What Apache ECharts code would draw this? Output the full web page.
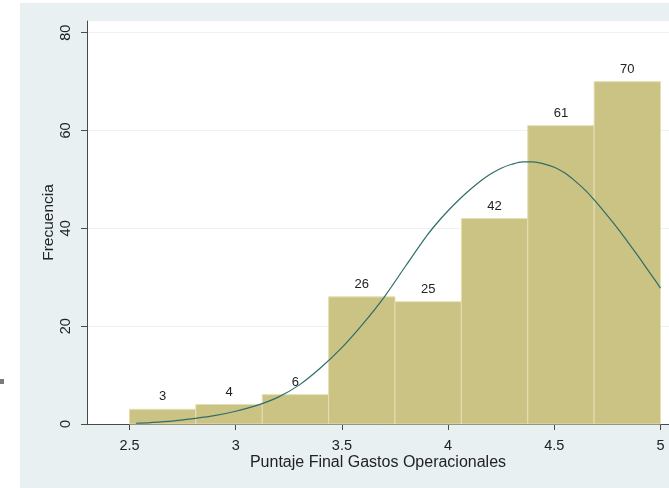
<!DOCTYPE html>
<html>
<head>
<meta charset="utf-8">
<script src="https://cdn.jsdelivr.net/npm/echarts@6/dist/echarts.min.js"></script>
<style>
html,body{margin:0;padding:0;background:#fff;width:669px;height:488px;overflow:hidden;position:relative;}
#frame{position:absolute;left:20px;top:3px;width:649px;height:485px;background:#e8f0f2;}
#chart{position:absolute;left:0;top:0;width:649px;height:485px;}
#dot{position:absolute;left:0;top:379px;width:4px;height:5px;background:#7a7a7a;}
</style>
</head>
<body>
<div id="dot"></div>
<div id="frame"><div id="chart"></div></div>
<script>
// Histogram bins (Puntaje Final Gastos Operacionales)
const binStarts = [2.5, 2.8125, 3.125, 3.4375, 3.75, 4.0625, 4.375, 4.6875];
const binEnds   = [2.8125, 3.125, 3.4375, 3.75, 4.0625, 4.375, 4.6875, 5.0];
const counts    = [3, 4, 6, 26, 25, 42, 61, 70];

// Overlaid density curve
const curveX = [2.53, 2.6, 2.7, 2.8, 2.9, 3.0, 3.1, 3.2, 3.3, 3.4, 3.5, 3.6, 3.7, 3.8, 3.9, 3.95, 4.0, 4.05, 4.1, 4.15, 4.2, 4.25, 4.3, 4.35, 4.4, 4.45, 4.5, 4.55, 4.6, 4.65, 4.7, 4.75, 4.8, 4.85, 4.9, 4.95, 5.0];
const curveY = [0.15, 0.3, 0.6, 1.1, 1.7, 2.6, 3.8, 5.5, 8.0, 11.5, 15.6, 20.5, 26.0, 32.3, 38.5, 41.2, 43.6, 45.8, 47.8, 49.6, 51.1, 52.3, 53.1, 53.6, 53.6, 53.2, 52.5, 51.3, 49.6, 47.6, 45.2, 42.6, 39.9, 37.0, 34.0, 30.9, 27.8];

// Axis ticks
const xTicks = [2.5, 3, 3.5, 4, 4.5, 5];
const yTicks = [0, 20, 40, 60, 80];

const histData = binStarts.map((s, i) => [s, binEnds[i], counts[i]]);
const curveData = curveX.map((x, i) => [x, curveY[i]]);

const FONT = "'Liberation Sans', Arial, sans-serif";
const TXT = '#222';

const chart = echarts.init(document.getElementById('chart'), null, {renderer: 'canvas'});
chart.setOption({
  backgroundColor: 'transparent',
  animation: false,
  grid: {left: 67, right: 0, top: 18, bottom: 64, show: true, backgroundColor: '#ffffff', borderWidth: 0},
  xAxis: {
    type: 'value', min: 2.3, max: 5.04,
    name: 'Puntaje Final Gastos Operacionales', nameLocation: 'middle', nameGap: 31, nameMoveOverlap: false,
    nameTextStyle: {fontFamily: FONT, fontSize: 16, color: TXT},
    axisLine: {show: true, lineStyle: {color: '#4a4a4a', width: 1}},
    axisTick: {show: true, length: 6, lineStyle: {color: '#4a4a4a'}, customValues: xTicks},
    axisLabel: {fontFamily: FONT, fontSize: 14.5, color: TXT, margin: 14, customValues: xTicks},
    splitLine: {show: false}
  },
  yAxis: {
    type: 'value', min: 0, max: 82.4, interval: 20,
    name: 'Frecuencia', nameLocation: 'middle', nameGap: 30, nameRotate: 90, nameMoveOverlap: false,
    nameTextStyle: {fontFamily: FONT, fontSize: 15.5, color: TXT},
    axisLine: {show: true, lineStyle: {color: '#4a4a4a', width: 1}},
    axisTick: {show: true, length: 6, lineStyle: {color: '#4a4a4a'}, customValues: yTicks},
    axisLabel: {fontFamily: FONT, fontSize: 14.5, color: TXT, rotate: 90, margin: 14, customValues: yTicks},
    splitLine: {show: true, lineStyle: {color: '#eaf2f3', width: 1}}
  },
  series: [
    {
      type: 'custom',
      data: histData,
      encode: {x: [0, 1], y: 2},
      renderItem: function (params, api) {
        const p0 = api.coord([api.value(0), api.value(2)]);
        const p1 = api.coord([api.value(1), 0]);
        return {
          type: 'group',
          children: [
            {type: 'rect', shape: {x: p0[0], y: p0[1], width: p1[0] - p0[0], height: p1[1] - p0[1]},
             style: {fill: '#cbc383', stroke: '#e4dfb4', lineWidth: 1}},
            {type: 'text', style: {text: String(api.value(2)), x: (p0[0] + p1[0]) / 2, y: p0[1] - 6,
             align: 'center', verticalAlign: 'bottom', fontFamily: FONT, fontSize: 13, fill: TXT}}
          ]
        };
      },
      z: 2
    },
    {
      type: 'line',
      data: curveData,
      smooth: 0.3,
      showSymbol: false,
      lineStyle: {color: '#2f6d6b', width: 1.2},
      z: 3
    }
  ]
});
</script>
</body>
</html>
